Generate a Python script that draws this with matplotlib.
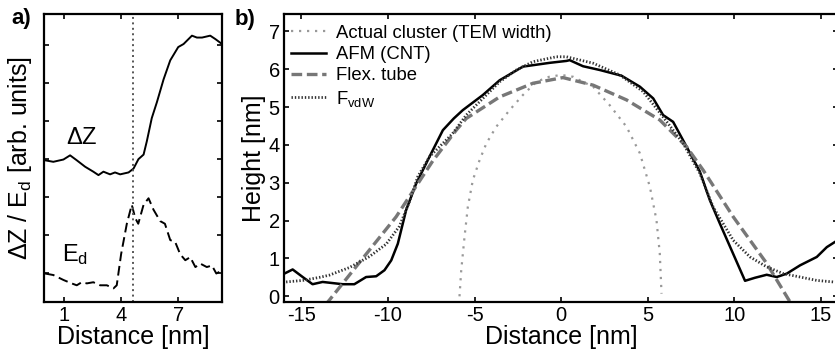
import numpy as np
import matplotlib.pyplot as plt

plt.rcParams['font.family'] = ['Liberation Sans', 'DejaVu Sans']
plt.rcParams['mathtext.fontset'] = 'custom'
plt.rcParams['mathtext.rm'] = 'Liberation Sans'
plt.rcParams['mathtext.it'] = 'Liberation Sans:italic'
plt.rcParams['axes.unicode_minus'] = False

# panel a) line scan, arbitrary units
a_dz_x = [0.0, 0.44, 0.97, 1.32, 1.67, 2.11, 2.54, 2.81, 3.07, 3.42, 3.68, 3.95, 4.39, 4.65,
          4.91, 5.18, 5.35, 5.61, 5.88, 6.23, 6.58, 7.0, 7.28, 7.72, 7.98, 8.25, 8.68, 8.95, 9.3]
a_dz_y = [2.97, 2.93, 2.99, 3.1, 2.97, 2.8, 2.67, 2.58, 2.67, 2.6, 2.65, 2.6, 2.65, 2.75,
          3.0, 3.12, 3.47, 4.08, 4.5, 5.1, 5.6, 5.95, 6.03, 6.25, 6.2, 6.2, 6.25, 6.16, 6.03]
a_ed_x = [0.0, 0.44, 0.97, 1.4, 1.67, 1.93, 2.2, 2.54, 2.9, 3.25, 3.6, 3.77, 4.0, 4.3, 4.56,
          4.74, 4.9, 5.18, 5.44, 5.7, 6.05, 6.3, 6.58, 6.84, 7.1, 7.37, 7.63, 7.9, 8.16, 8.5,
          8.77, 9.0, 9.3]
a_ed_y = [-0.01, -0.05, -0.18, -0.27, -0.32, -0.24, -0.27, -0.24, -0.32, -0.32, -0.4, -0.32,
          0.5, 1.3, 1.8, 1.45, 1.3, 1.8, 1.97, 1.67, 1.37, 1.3, 0.87, 0.82, 0.5, 0.34, 0.42,
          0.16, 0.25, 0.16, 0.2, -0.01, 0.07]
a_marker_x = 4.65

# panel b) height profiles [nm]
afm_x = [-15.98, -15.5, -14.92, -14.35, -13.77, -13.19, -12.61, -11.94, -11.26, -10.68, -10.2,
         -9.81, -9.43, -8.95, -8.37, -7.6, -6.83, -6.2, -5.68, -4.52, -3.55, -2.21, -0.66, 0.3,
         0.49, 1.26, 2.23, 3.48, 4.54, 5.31, 5.88, 6.46, 7.24, 8.0, 8.58, 9.16, 10.61, 11.18,
         11.86, 12.44, 13.02, 13.79, 14.75, 15.33, 15.81]
afm_y = [0.6, 0.71, 0.51, 0.32, 0.38, 0.35, 0.32, 0.32, 0.51, 0.53, 0.69, 0.95, 1.39, 2.28,
         2.98, 3.69, 4.39, 4.7, 4.92, 5.32, 5.71, 6.07, 6.17, 6.22, 6.24, 6.08, 5.98, 5.83,
         5.54, 5.23, 4.79, 4.61, 3.95, 3.3, 2.54, 1.92, 0.41, 0.49, 0.57, 0.51, 0.6, 0.82,
         1.04, 1.3, 1.44]
tube_x = [-13.6, -13.38, -11.46, -9.53, -7.41, -6.06, -5.48, -3.55, -1.63, 0.1, 1.84, 3.77,
          5.69, 7.24, 8.2, 9.93, 11.86, 13.21, 13.4]
tube_y = [-0.22, -0.1, 1.0, 2.1, 3.58, 4.39, 4.7, 5.27, 5.63, 5.78, 5.58, 5.19, 4.66, 3.95,
          3.33, 2.1, 0.87, -0.15, -0.22]
vdw_x = [-15.88, -14.92, -13.96, -13.38, -12.23, -11.07, -10.1, -9.34, -8.76, -8.28, -7.6,
         -6.27, -5.48, -4.52, -3.55, -2.59, -1.63, -0.28, 0.3, 1.84, 3.38, 4.73, 5.88, 7.04,
         8.0, 8.77, 9.93, 10.9, 11.86, 12.82, 13.79, 14.75, 15.71]
vdw_y = [0.38, 0.42, 0.5, 0.56, 0.76, 1.05, 1.38, 1.85, 2.5, 3.16, 3.69, 4.3, 4.79, 5.23,
         5.67, 5.98, 6.2, 6.33, 6.33, 6.16, 5.85, 5.41, 4.74, 4.04, 3.25, 2.36, 1.48, 1.04,
         0.78, 0.6, 0.51, 0.42, 0.38]
tem_x = [-5.87, -5.77, -5.58, -5.39, -5.1, -4.71, -4.32, -3.75, -2.98, -2.21, -1.43, -0.7, 0.0,
         0.7, 1.07, 1.84, 2.8, 3.77, 4.54, 5.12, 5.5, 5.69, 5.79]
tem_y = [0.0, 0.69, 1.57, 2.36, 3.07, 3.6, 4.04, 4.48, 4.92, 5.32, 5.67, 5.8, 5.85, 5.8, 5.71,
         5.54, 5.05, 4.48, 3.78, 2.89, 2.01, 1.13, 0.07]

fig = plt.figure(figsize=(8.35, 3.6), dpi=100)
axa = fig.add_axes([0.0527, 0.1611, 0.2132, 0.8])
axb = fig.add_axes([0.3401, 0.1611, 0.664, 0.8])

for ax in (axa, axb):
    for s in ax.spines.values():
        s.set_linewidth(1.6)
    ax.tick_params(direction='in', top=True, right=True, length=3.5, width=1.2,
                   labelsize=14.5, pad=3)

# a)
axa.plot(a_dz_x, a_dz_y, color='black', lw=1.4)
axa.plot(a_ed_x, a_ed_y, color='black', lw=1.4, dashes=(5, 2.5))
axa.axvline(a_marker_x, color='#555555', lw=1.4, dashes=(1, 1.8))
axa.set_xlim(-0.05, 9.3)
axa.set_ylim(-0.76, 6.82)
axa.set_xticks([1, 4, 7])
axa.set_yticks(np.arange(0, 7))
axa.set_yticklabels([])
axa.text(1.95, 3.55, r'$\Delta$Z', fontsize=17, ha='center', va='center')
axa.text(1.6, 0.5, r'E$_\mathrm{d}$', fontsize=17, ha='center', va='center')
axa.set_xlabel('Distance [nm]', fontsize=18, labelpad=0)
axa.set_ylabel(r'$\Delta$Z / E$_\mathrm{d}$ [arb. units]', fontsize=18, labelpad=4)

# b)
axb.plot(tem_x, tem_y, color='#999999', lw=1.6, dashes=(1, 2.6),
         label='Actual cluster (TEM width)')
axb.plot(afm_x, afm_y, color='black', lw=1.8, label='AFM (CNT)')
axb.plot(tube_x, tube_y, color='#777777', lw=2.4, dashes=(3.2, 1.4), label='Flex. tube')
axb.plot(vdw_x, vdw_y, color='#333333', lw=2.0, dashes=(0.5, 0.7),
         label=r'F$_\mathrm{vdW}$')
axb.set_xlim(-16, 16)
axb.set_ylim(-0.15, 7.46)
axb.set_xticks([-15, -10, -5, 0, 5, 10, 15])
axb.set_yticks(np.arange(0, 8))
axb.set_xlabel('Distance [nm]', fontsize=18, labelpad=0)
axb.set_ylabel('Height [nm]', fontsize=18, labelpad=2)
axb.legend(loc='upper left', bbox_to_anchor=(0.013, 0.962), frameon=False, fontsize=13.3,
           handlelength=1.9, handletextpad=0.5, labelspacing=0.23, borderpad=0,
           borderaxespad=0)

fig.text(0.014, 0.948, 'a)', fontsize=16, fontweight='bold', va='center')
fig.text(0.281, 0.945, 'b)', fontsize=16, fontweight='bold', va='center')

fig.savefig('out.png', dpi=100)
